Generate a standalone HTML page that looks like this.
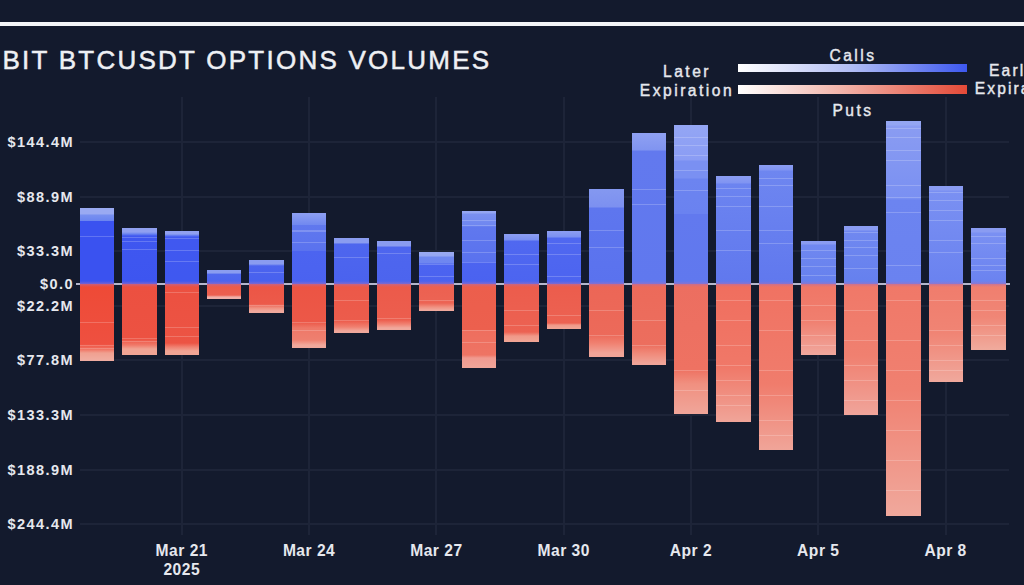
<!DOCTYPE html><html><head><meta charset="utf-8"><style>
*{margin:0;padding:0;box-sizing:border-box}
html,body{width:1024px;height:585px;overflow:hidden;background:#131a2d;font-family:"Liberation Sans",sans-serif;color:#e6e8ee}
.a{position:absolute}
.gv{position:absolute;width:2px;background:#1d2438}
.gh{position:absolute;height:2px;background:#1d2438}
.st{position:absolute;height:1.2px;background:rgba(255,255,255,0.2)}
.yl{position:absolute;right:950px;font-size:14.5px;font-weight:bold;letter-spacing:1.45px;white-space:nowrap;line-height:16px}
.xl{position:absolute;font-size:15.6px;font-weight:bold;letter-spacing:0.5px;white-space:nowrap;line-height:19px;text-align:center;width:100px}
.lg{position:absolute;font-size:15.6px;font-weight:normal;-webkit-text-stroke:0.4px #e6e8ee;letter-spacing:2.5px;white-space:nowrap;line-height:17px;text-align:center}
</style></head><body>

<div class="a" style="left:0;top:22px;width:1024px;height:4px;background:#f4f5f8"></div>
<div class="a" style="left:2.5px;top:44.8px;font-size:26px;letter-spacing:2.25px;line-height:30px;white-space:nowrap;color:#eef0f4;-webkit-text-stroke:0.5px #eef0f4">BIT BTCUSDT OPTIONS VOLUMES</div>
<div class="a" style="left:738px;top:64px;width:228.5px;height:8px;background:linear-gradient(90deg,#ffffff,#b0bcf4 50%,#3d58f0)"></div>
<div class="a" style="left:738px;top:85px;width:228.5px;height:9px;background:linear-gradient(90deg,#ffffff,#f2b4aa 45%,#e44a38)"></div>
<div class="lg" style="left:602px;top:62.5px;width:170px">Later</div>
<div class="lg" style="left:602px;top:82px;width:170px">Expiration</div>
<div class="lg" style="left:768px;top:46.8px;width:170px">Calls</div>
<div class="lg" style="left:768px;top:101.5px;width:170px">Puts</div>
<div class="lg" style="left:934px;top:62px;width:170px;letter-spacing:2.1px">Earlier</div>
<div class="lg" style="left:935px;top:80px;width:170px;letter-spacing:2.1px">Expiration</div>
<div class="gv" style="left:180.8px;top:97px;height:438px"></div>
<div class="gv" style="left:308.1px;top:97px;height:438px"></div>
<div class="gv" style="left:435.4px;top:97px;height:438px"></div>
<div class="gv" style="left:562.7px;top:97px;height:438px"></div>
<div class="gv" style="left:690.0px;top:97px;height:438px"></div>
<div class="gv" style="left:817.3px;top:97px;height:438px"></div>
<div class="gv" style="left:944.6px;top:97px;height:438px"></div>
<div class="gh" style="left:79.5px;top:141.2px;width:929px"></div>
<div class="gh" style="left:79.5px;top:195.7px;width:929px"></div>
<div class="gh" style="left:79.5px;top:250.3px;width:929px"></div>
<div class="gh" style="left:79.5px;top:304.8px;width:929px"></div>
<div class="gh" style="left:79.5px;top:359.4px;width:929px"></div>
<div class="gh" style="left:79.5px;top:413.9px;width:929px"></div>
<div class="gh" style="left:79.5px;top:468.5px;width:929px"></div>
<div class="gh" style="left:79.5px;top:523.0px;width:929px"></div>
<div class="a" style="left:75.5px;top:283.0px;width:934px;height:2px;background:#b4b6cc"></div>
<div class="a" style="left:79.6px;top:207.7px;width:34.6px;height:76.3px;background:linear-gradient(0deg,#3a52f0 0.00%,#3a52f0 82.96%,#6a84f0 82.96%,#7890f0 90.83%,#9aaaf2 92.14%,#9aaaf2 98.69%)"></div>
<div class="st" style="left:79.6px;top:236.0px;width:34.6px"></div>
<div class="a" style="left:79.6px;top:284.0px;width:34.6px;height:77.2px;background:linear-gradient(180deg,#ee4a36 0.00%,#ee5040 77.98%,#f07060 84.46%,#f0a090 89.64%,#f0aca0 98.70%)"></div>
<div class="st" style="left:79.6px;top:322.0px;width:34.6px"></div>
<div class="st" style="left:79.6px;top:345.0px;width:34.6px"></div>
<div class="st" style="left:79.6px;top:348.0px;width:34.6px"></div>
<div class="a" style="left:79.6px;top:281.0px;width:34.6px;height:6px;background:linear-gradient(180deg,rgba(150,110,200,0),rgba(170,110,180,0.55) 50%,rgba(200,110,140,0))"></div>
<div class="a" style="left:122.0px;top:227.6px;width:34.6px;height:56.4px;background:linear-gradient(0deg,#3d55f0 0.00%,#3f57f0 85.82%,#6a84f0 89.36%,#90a0f0 92.91%)"></div>
<div class="st" style="left:122.0px;top:237.0px;width:34.6px"></div>
<div class="st" style="left:122.0px;top:240.5px;width:34.6px"></div>
<div class="st" style="left:122.0px;top:248.5px;width:34.6px"></div>
<div class="a" style="left:122.0px;top:284.0px;width:34.6px;height:70.5px;background:linear-gradient(180deg,#ec5040 0.00%,#ec5242 77.30%,#f07868 85.82%,#f0a494 91.49%)"></div>
<div class="st" style="left:122.0px;top:338.0px;width:34.6px"></div>
<div class="st" style="left:122.0px;top:341.0px;width:34.6px"></div>
<div class="a" style="left:122.0px;top:281.0px;width:34.6px;height:6px;background:linear-gradient(180deg,rgba(150,110,200,0),rgba(170,110,180,0.55) 50%,rgba(200,110,140,0))"></div>
<div class="a" style="left:164.5px;top:230.6px;width:34.6px;height:53.4px;background:linear-gradient(0deg,#3f58f0 0.00%,#4058f0 88.76%,#7088f0 92.51%,#90a0f0 94.38%)"></div>
<div class="st" style="left:164.5px;top:238.0px;width:34.6px"></div>
<div class="st" style="left:164.5px;top:250.0px;width:34.6px"></div>
<div class="st" style="left:164.5px;top:260.5px;width:34.6px"></div>
<div class="a" style="left:164.5px;top:284.0px;width:34.6px;height:71.2px;background:linear-gradient(180deg,#ec5040 0.00%,#ec5444 83.15%,#f08070 88.76%,#f0a494 94.38%)"></div>
<div class="st" style="left:164.5px;top:292.0px;width:34.6px"></div>
<div class="st" style="left:164.5px;top:327.0px;width:34.6px"></div>
<div class="st" style="left:164.5px;top:336.0px;width:34.6px"></div>
<div class="a" style="left:164.5px;top:281.0px;width:34.6px;height:6px;background:linear-gradient(180deg,rgba(150,110,200,0),rgba(170,110,180,0.55) 50%,rgba(200,110,140,0))"></div>
<div class="a" style="left:206.9px;top:270.3px;width:34.6px;height:13.7px;background:linear-gradient(0deg,#4a62ee 0.00%,#5068ee 70.80%,#8a9cf0 78.10%)"></div>
<div class="a" style="left:206.9px;top:284.0px;width:34.6px;height:15.3px;background:linear-gradient(180deg,#ec5a48 0.00%,#ec6050 73.86%,#f0b0a8 86.93%)"></div>
<div class="a" style="left:206.9px;top:281.0px;width:34.6px;height:6px;background:linear-gradient(180deg,rgba(150,110,200,0),rgba(170,110,180,0.55) 50%,rgba(200,110,140,0))"></div>
<div class="a" style="left:249.4px;top:259.7px;width:34.6px;height:24.3px;background:linear-gradient(0deg,#4760ee 0.00%,#4c64ee 75.31%,#8a9cf0 83.54%)"></div>
<div class="st" style="left:249.4px;top:272.0px;width:34.6px"></div>
<div class="a" style="left:249.4px;top:284.0px;width:34.6px;height:28.9px;background:linear-gradient(180deg,#ec5545 0.00%,#ec5a4a 68.86%,#f09080 82.70%,#f0a89c 93.08%)"></div>
<div class="st" style="left:249.4px;top:305.0px;width:34.6px"></div>
<div class="a" style="left:249.4px;top:281.0px;width:34.6px;height:6px;background:linear-gradient(180deg,rgba(150,110,200,0),rgba(170,110,180,0.55) 50%,rgba(200,110,140,0))"></div>
<div class="a" style="left:291.9px;top:213.3px;width:34.6px;height:70.7px;background:linear-gradient(0deg,#4a62f0 0.00%,#4c64f0 46.68%,#5a72ee 46.68%,#6078ee 83.03%,#7088f0 83.03%,#8c9ef2 98.59%)"></div>
<div class="st" style="left:291.9px;top:230.4px;width:34.6px"></div>
<div class="st" style="left:291.9px;top:241.8px;width:34.6px"></div>
<div class="a" style="left:291.9px;top:284.0px;width:34.6px;height:64.3px;background:linear-gradient(180deg,#ec5443 0.00%,#ec5848 59.56%,#ee7868 68.90%,#ee8070 87.56%,#f0a89c 95.33%)"></div>
<div class="st" style="left:291.9px;top:322.0px;width:34.6px"></div>
<div class="st" style="left:291.9px;top:330.0px;width:34.6px"></div>
<div class="a" style="left:291.9px;top:281.0px;width:34.6px;height:6px;background:linear-gradient(180deg,rgba(150,110,200,0),rgba(170,110,180,0.55) 50%,rgba(200,110,140,0))"></div>
<div class="a" style="left:334.3px;top:237.6px;width:34.6px;height:46.4px;background:linear-gradient(0deg,#4a62ee 0.00%,#4e66ee 87.07%,#8a9cf0 89.22%)"></div>
<div class="st" style="left:334.3px;top:257.0px;width:34.6px"></div>
<div class="a" style="left:334.3px;top:284.0px;width:34.6px;height:48.6px;background:linear-gradient(180deg,#ec5848 0.00%,#ec5c4c 75.31%,#f08070 87.65%,#f0a89c 95.88%)"></div>
<div class="st" style="left:334.3px;top:300.0px;width:34.6px"></div>
<div class="st" style="left:334.3px;top:320.0px;width:34.6px"></div>
<div class="a" style="left:334.3px;top:281.0px;width:34.6px;height:6px;background:linear-gradient(180deg,rgba(150,110,200,0),rgba(170,110,180,0.55) 50%,rgba(200,110,140,0))"></div>
<div class="a" style="left:376.8px;top:241.1px;width:34.6px;height:42.9px;background:linear-gradient(0deg,#4c64ee 0.00%,#4e66ee 86.01%,#8a9cf0 88.34%)"></div>
<div class="st" style="left:376.8px;top:253.2px;width:34.6px"></div>
<div class="a" style="left:376.8px;top:284.0px;width:34.6px;height:46.0px;background:linear-gradient(180deg,#ec5a4a 0.00%,#ec5e4e 78.26%,#f08070 86.96%,#f0a89c 95.65%)"></div>
<div class="st" style="left:376.8px;top:318.0px;width:34.6px"></div>
<div class="a" style="left:376.8px;top:281.0px;width:34.6px;height:6px;background:linear-gradient(180deg,rgba(150,110,200,0),rgba(170,110,180,0.55) 50%,rgba(200,110,140,0))"></div>
<div class="a" style="left:419.2px;top:252.2px;width:34.6px;height:31.8px;background:linear-gradient(0deg,#4a62f0 0.00%,#4c64f0 62.26%,#6e86f0 65.41%,#7088f0 84.28%,#94a6f2 87.42%,#9aaaf2 96.86%)"></div>
<div class="st" style="left:419.2px;top:264.0px;width:34.6px"></div>
<div class="st" style="left:419.2px;top:276.0px;width:34.6px"></div>
<div class="a" style="left:419.2px;top:284.0px;width:34.6px;height:27.2px;background:linear-gradient(180deg,#ec6050 0.00%,#ec6454 70.59%,#f09080 85.29%,#f0a89c 96.32%)"></div>
<div class="st" style="left:419.2px;top:300.0px;width:34.6px"></div>
<div class="a" style="left:419.2px;top:281.0px;width:34.6px;height:6px;background:linear-gradient(180deg,rgba(150,110,200,0),rgba(170,110,180,0.55) 50%,rgba(200,110,140,0))"></div>
<div class="a" style="left:461.6px;top:210.7px;width:34.6px;height:73.3px;background:linear-gradient(0deg,#4a62f0 0.00%,#4c64f0 30.01%,#5a72ee 30.01%,#6078ee 78.17%,#6e86f0 79.54%,#7a90f0 95.91%,#94a6f2 97.27%)"></div>
<div class="st" style="left:461.6px;top:220.0px;width:34.6px"></div>
<div class="st" style="left:461.6px;top:225.0px;width:34.6px"></div>
<div class="st" style="left:461.6px;top:240.0px;width:34.6px"></div>
<div class="st" style="left:461.6px;top:252.0px;width:34.6px"></div>
<div class="st" style="left:461.6px;top:262.0px;width:34.6px"></div>
<div class="a" style="left:461.6px;top:284.0px;width:34.6px;height:83.7px;background:linear-gradient(180deg,#ec5e4c 0.00%,#ec604e 54.96%,#ee6e5e 54.96%,#ee7464 84.47%,#f09a90 88.05%,#f0a498 98.81%)"></div>
<div class="st" style="left:461.6px;top:330.0px;width:34.6px"></div>
<div class="st" style="left:461.6px;top:342.0px;width:34.6px"></div>
<div class="a" style="left:461.6px;top:281.0px;width:34.6px;height:6px;background:linear-gradient(180deg,rgba(150,110,200,0),rgba(170,110,180,0.55) 50%,rgba(200,110,140,0))"></div>
<div class="a" style="left:504.1px;top:234.1px;width:34.6px;height:49.9px;background:linear-gradient(0deg,#4c64f0 0.00%,#5068f0 85.97%,#7a90f2 87.98%,#8a9cf2 98.00%)"></div>
<div class="st" style="left:504.1px;top:254.0px;width:34.6px"></div>
<div class="st" style="left:504.1px;top:264.0px;width:34.6px"></div>
<div class="a" style="left:504.1px;top:284.0px;width:34.6px;height:58.2px;background:linear-gradient(180deg,#ec5c4c 0.00%,#ec6252 82.82%,#f09888 89.69%,#f0a494 98.28%)"></div>
<div class="st" style="left:504.1px;top:310.0px;width:34.6px"></div>
<div class="st" style="left:504.1px;top:325.0px;width:34.6px"></div>
<div class="a" style="left:504.1px;top:281.0px;width:34.6px;height:6px;background:linear-gradient(180deg,rgba(150,110,200,0),rgba(170,110,180,0.55) 50%,rgba(200,110,140,0))"></div>
<div class="a" style="left:546.6px;top:231.2px;width:34.6px;height:52.8px;background:linear-gradient(0deg,#4c64f0 0.00%,#5068f0 86.74%,#7a90f2 88.64%,#8a9cf2 98.11%)"></div>
<div class="st" style="left:546.6px;top:243.0px;width:34.6px"></div>
<div class="st" style="left:546.6px;top:254.0px;width:34.6px"></div>
<div class="st" style="left:546.6px;top:276.0px;width:34.6px"></div>
<div class="a" style="left:546.6px;top:284.0px;width:34.6px;height:45.1px;background:linear-gradient(180deg,#ec5c4c 0.00%,#ec6252 86.70%,#f09888 91.13%,#f0a494 97.78%)"></div>
<div class="st" style="left:546.6px;top:315.0px;width:34.6px"></div>
<div class="a" style="left:546.6px;top:281.0px;width:34.6px;height:6px;background:linear-gradient(180deg,rgba(150,110,200,0),rgba(170,110,180,0.55) 50%,rgba(200,110,140,0))"></div>
<div class="a" style="left:589.0px;top:189.0px;width:34.6px;height:95.0px;background:linear-gradient(0deg,#5a72ee 0.00%,#5e76ee 80.00%,#7c90f0 81.05%,#8498f0 98.95%)"></div>
<div class="st" style="left:589.0px;top:230.0px;width:34.6px"></div>
<div class="st" style="left:589.0px;top:247.0px;width:34.6px"></div>
<div class="a" style="left:589.0px;top:284.0px;width:34.6px;height:73.3px;background:linear-gradient(180deg,#ec6656 0.00%,#ec6a5a 69.99%,#f08070 80.90%,#f0a498 94.54%)"></div>
<div class="st" style="left:589.0px;top:310.0px;width:34.6px"></div>
<div class="st" style="left:589.0px;top:335.0px;width:34.6px"></div>
<div class="a" style="left:589.0px;top:281.0px;width:34.6px;height:6px;background:linear-gradient(180deg,rgba(150,110,200,0),rgba(170,110,180,0.55) 50%,rgba(200,110,140,0))"></div>
<div class="a" style="left:631.5px;top:133.2px;width:34.6px;height:150.8px;background:linear-gradient(0deg,#6078ee 0.00%,#6279ee 88.06%,#8094f0 88.73%,#8ea0f2 99.34%)"></div>
<div class="st" style="left:631.5px;top:189.0px;width:34.6px"></div>
<div class="st" style="left:631.5px;top:204.0px;width:34.6px"></div>
<div class="a" style="left:631.5px;top:284.0px;width:34.6px;height:80.5px;background:linear-gradient(180deg,#ec6a5a 0.00%,#ec6e5e 75.16%,#f08878 85.09%,#f0a498 97.52%)"></div>
<div class="st" style="left:631.5px;top:320.0px;width:34.6px"></div>
<div class="st" style="left:631.5px;top:345.0px;width:34.6px"></div>
<div class="a" style="left:631.5px;top:281.0px;width:34.6px;height:6px;background:linear-gradient(180deg,rgba(150,110,200,0),rgba(170,110,180,0.55) 50%,rgba(200,110,140,0))"></div>
<div class="a" style="left:673.9px;top:125.0px;width:34.6px;height:159.0px;background:linear-gradient(0deg,#6078ee 0.00%,#6279ee 44.03%,#6a82f0 44.03%,#6c84f0 66.04%,#7a90f2 66.67%,#7a90f2 77.36%,#8a9cf4 77.99%,#94a6f4 99.37%)"></div>
<div class="st" style="left:673.9px;top:190.0px;width:34.6px"></div>
<div class="st" style="left:673.9px;top:170.0px;width:34.6px"></div>
<div class="st" style="left:673.9px;top:155.0px;width:34.6px"></div>
<div class="st" style="left:673.9px;top:145.0px;width:34.6px"></div>
<div class="st" style="left:673.9px;top:137.0px;width:34.6px"></div>
<div class="a" style="left:673.9px;top:284.0px;width:34.6px;height:129.7px;background:linear-gradient(180deg,#ec6e60 0.00%,#ee7262 66.08%,#f09080 76.87%,#f0a498 98.46%)"></div>
<div class="st" style="left:673.9px;top:370.0px;width:34.6px"></div>
<div class="st" style="left:673.9px;top:390.0px;width:34.6px"></div>
<div class="a" style="left:673.9px;top:281.0px;width:34.6px;height:6px;background:linear-gradient(180deg,rgba(150,110,200,0),rgba(170,110,180,0.55) 50%,rgba(200,110,140,0))"></div>
<div class="a" style="left:716.4px;top:175.5px;width:34.6px;height:108.5px;background:linear-gradient(0deg,#6078ee 0.00%,#6c84f0 92.63%,#8094f2 93.55%,#8a9cf2 99.08%)"></div>
<div class="st" style="left:716.4px;top:188.0px;width:34.6px"></div>
<div class="st" style="left:716.4px;top:196.0px;width:34.6px"></div>
<div class="st" style="left:716.4px;top:206.0px;width:34.6px"></div>
<div class="st" style="left:716.4px;top:230.0px;width:34.6px"></div>
<div class="st" style="left:716.4px;top:250.0px;width:34.6px"></div>
<div class="a" style="left:716.4px;top:284.0px;width:34.6px;height:137.6px;background:linear-gradient(180deg,#f06e5e 0.00%,#f07868 60.00%,#f0a498 99.27%)"></div>
<div class="st" style="left:716.4px;top:300.0px;width:34.6px"></div>
<div class="st" style="left:716.4px;top:320.0px;width:34.6px"></div>
<div class="st" style="left:716.4px;top:345.0px;width:34.6px"></div>
<div class="st" style="left:716.4px;top:365.0px;width:34.6px"></div>
<div class="st" style="left:716.4px;top:380.0px;width:34.6px"></div>
<div class="st" style="left:716.4px;top:395.0px;width:34.6px"></div>
<div class="st" style="left:716.4px;top:405.0px;width:34.6px"></div>
<div class="a" style="left:716.4px;top:281.0px;width:34.6px;height:6px;background:linear-gradient(180deg,rgba(150,110,200,0),rgba(170,110,180,0.55) 50%,rgba(200,110,140,0))"></div>
<div class="a" style="left:758.8px;top:165.4px;width:34.6px;height:118.6px;background:linear-gradient(0deg,#6078ee 0.00%,#6e86f0 94.94%,#8094f2 95.78%,#8a9cf2 99.16%)"></div>
<div class="st" style="left:758.8px;top:178.0px;width:34.6px"></div>
<div class="st" style="left:758.8px;top:185.0px;width:34.6px"></div>
<div class="st" style="left:758.8px;top:206.0px;width:34.6px"></div>
<div class="st" style="left:758.8px;top:230.0px;width:34.6px"></div>
<div class="st" style="left:758.8px;top:243.0px;width:34.6px"></div>
<div class="a" style="left:758.8px;top:284.0px;width:34.6px;height:165.6px;background:linear-gradient(180deg,#f07262 0.00%,#f07c6c 60.00%,#f0a498 99.40%)"></div>
<div class="st" style="left:758.8px;top:300.0px;width:34.6px"></div>
<div class="st" style="left:758.8px;top:330.0px;width:34.6px"></div>
<div class="st" style="left:758.8px;top:370.0px;width:34.6px"></div>
<div class="st" style="left:758.8px;top:395.0px;width:34.6px"></div>
<div class="st" style="left:758.8px;top:420.0px;width:34.6px"></div>
<div class="st" style="left:758.8px;top:435.0px;width:34.6px"></div>
<div class="a" style="left:758.8px;top:281.0px;width:34.6px;height:6px;background:linear-gradient(180deg,rgba(150,110,200,0),rgba(170,110,180,0.55) 50%,rgba(200,110,140,0))"></div>
<div class="a" style="left:801.3px;top:240.6px;width:34.6px;height:43.4px;background:linear-gradient(0deg,#6580ee 0.00%,#7088f0 90.78%,#8a9cf2 93.09%)"></div>
<div class="st" style="left:801.3px;top:250.0px;width:34.6px"></div>
<div class="st" style="left:801.3px;top:258.0px;width:34.6px"></div>
<div class="st" style="left:801.3px;top:266.0px;width:34.6px"></div>
<div class="st" style="left:801.3px;top:275.0px;width:34.6px"></div>
<div class="a" style="left:801.3px;top:284.0px;width:34.6px;height:70.6px;background:linear-gradient(180deg,#f07666 0.00%,#f07e6e 50.00%,#f0a69c 98.58%)"></div>
<div class="st" style="left:801.3px;top:305.0px;width:34.6px"></div>
<div class="st" style="left:801.3px;top:320.0px;width:34.6px"></div>
<div class="st" style="left:801.3px;top:335.0px;width:34.6px"></div>
<div class="st" style="left:801.3px;top:345.0px;width:34.6px"></div>
<div class="a" style="left:801.3px;top:281.0px;width:34.6px;height:6px;background:linear-gradient(180deg,rgba(150,110,200,0),rgba(170,110,180,0.55) 50%,rgba(200,110,140,0))"></div>
<div class="a" style="left:843.7px;top:226.0px;width:34.6px;height:58.0px;background:linear-gradient(0deg,#6580ee 0.00%,#7088f0 91.38%,#8a9cf2 93.10%)"></div>
<div class="st" style="left:843.7px;top:232.0px;width:34.6px"></div>
<div class="st" style="left:843.7px;top:240.0px;width:34.6px"></div>
<div class="st" style="left:843.7px;top:247.0px;width:34.6px"></div>
<div class="st" style="left:843.7px;top:255.0px;width:34.6px"></div>
<div class="st" style="left:843.7px;top:268.0px;width:34.6px"></div>
<div class="a" style="left:843.7px;top:284.0px;width:34.6px;height:131.4px;background:linear-gradient(180deg,#f07868 0.00%,#f08070 55.00%,#f0a49a 99.24%)"></div>
<div class="st" style="left:843.7px;top:310.0px;width:34.6px"></div>
<div class="st" style="left:843.7px;top:340.0px;width:34.6px"></div>
<div class="st" style="left:843.7px;top:365.0px;width:34.6px"></div>
<div class="st" style="left:843.7px;top:380.0px;width:34.6px"></div>
<div class="st" style="left:843.7px;top:400.0px;width:34.6px"></div>
<div class="a" style="left:843.7px;top:281.0px;width:34.6px;height:6px;background:linear-gradient(180deg,rgba(150,110,200,0),rgba(170,110,180,0.55) 50%,rgba(200,110,140,0))"></div>
<div class="a" style="left:886.2px;top:120.7px;width:34.6px;height:163.3px;background:linear-gradient(0deg,#6a82f0 0.00%,#6c84f0 51.44%,#7a90f2 52.66%,#8a9cf2 96.94%,#94a6f2 97.55%)"></div>
<div class="st" style="left:886.2px;top:128.0px;width:34.6px"></div>
<div class="st" style="left:886.2px;top:137.0px;width:34.6px"></div>
<div class="st" style="left:886.2px;top:150.0px;width:34.6px"></div>
<div class="st" style="left:886.2px;top:160.0px;width:34.6px"></div>
<div class="st" style="left:886.2px;top:185.0px;width:34.6px"></div>
<div class="st" style="left:886.2px;top:197.0px;width:34.6px"></div>
<div class="st" style="left:886.2px;top:212.0px;width:34.6px"></div>
<div class="st" style="left:886.2px;top:265.0px;width:34.6px"></div>
<div class="a" style="left:886.2px;top:284.0px;width:34.6px;height:231.6px;background:linear-gradient(180deg,#f07868 0.00%,#f08070 45.00%,#f0a89c 99.57%)"></div>
<div class="st" style="left:886.2px;top:300.0px;width:34.6px"></div>
<div class="st" style="left:886.2px;top:340.0px;width:34.6px"></div>
<div class="st" style="left:886.2px;top:370.0px;width:34.6px"></div>
<div class="st" style="left:886.2px;top:400.0px;width:34.6px"></div>
<div class="st" style="left:886.2px;top:430.0px;width:34.6px"></div>
<div class="st" style="left:886.2px;top:460.0px;width:34.6px"></div>
<div class="st" style="left:886.2px;top:490.0px;width:34.6px"></div>
<div class="a" style="left:886.2px;top:281.0px;width:34.6px;height:6px;background:linear-gradient(180deg,rgba(150,110,200,0),rgba(170,110,180,0.55) 50%,rgba(200,110,140,0))"></div>
<div class="a" style="left:928.6px;top:185.7px;width:34.6px;height:98.3px;background:linear-gradient(0deg,#6a82f0 0.00%,#7a90f2 94.91%,#8a9cf2 95.93%)"></div>
<div class="st" style="left:928.6px;top:192.0px;width:34.6px"></div>
<div class="st" style="left:928.6px;top:200.0px;width:34.6px"></div>
<div class="st" style="left:928.6px;top:210.0px;width:34.6px"></div>
<div class="st" style="left:928.6px;top:220.0px;width:34.6px"></div>
<div class="st" style="left:928.6px;top:240.0px;width:34.6px"></div>
<div class="st" style="left:928.6px;top:252.0px;width:34.6px"></div>
<div class="a" style="left:928.6px;top:284.0px;width:34.6px;height:98.3px;background:linear-gradient(180deg,#f07c6c 0.00%,#f08474 50.00%,#f0a89c 98.98%)"></div>
<div class="st" style="left:928.6px;top:300.0px;width:34.6px"></div>
<div class="st" style="left:928.6px;top:330.0px;width:34.6px"></div>
<div class="st" style="left:928.6px;top:345.0px;width:34.6px"></div>
<div class="st" style="left:928.6px;top:360.0px;width:34.6px"></div>
<div class="st" style="left:928.6px;top:370.0px;width:34.6px"></div>
<div class="a" style="left:928.6px;top:281.0px;width:34.6px;height:6px;background:linear-gradient(180deg,rgba(150,110,200,0),rgba(170,110,180,0.55) 50%,rgba(200,110,140,0))"></div>
<div class="a" style="left:971.1px;top:228.0px;width:34.6px;height:56.0px;background:linear-gradient(0deg,#6a82f0 0.00%,#7a90f2 91.07%,#8a9cf2 92.86%)"></div>
<div class="st" style="left:971.1px;top:236.0px;width:34.6px"></div>
<div class="st" style="left:971.1px;top:243.0px;width:34.6px"></div>
<div class="st" style="left:971.1px;top:258.0px;width:34.6px"></div>
<div class="st" style="left:971.1px;top:265.0px;width:34.6px"></div>
<div class="st" style="left:971.1px;top:270.0px;width:34.6px"></div>
<div class="a" style="left:971.1px;top:284.0px;width:34.6px;height:65.8px;background:linear-gradient(180deg,#f07e6e 0.00%,#f08676 50.00%,#f0aa9c 98.48%)"></div>
<div class="st" style="left:971.1px;top:300.0px;width:34.6px"></div>
<div class="st" style="left:971.1px;top:310.0px;width:34.6px"></div>
<div class="st" style="left:971.1px;top:325.0px;width:34.6px"></div>
<div class="st" style="left:971.1px;top:335.0px;width:34.6px"></div>
<div class="a" style="left:971.1px;top:281.0px;width:34.6px;height:6px;background:linear-gradient(180deg,rgba(150,110,200,0),rgba(170,110,180,0.55) 50%,rgba(200,110,140,0))"></div>
<div class="yl" style="top:134.2px">$144.4M</div>
<div class="yl" style="top:188.7px">$88.9M</div>
<div class="yl" style="top:243.3px">$33.3M</div>
<div class="yl" style="top:276.0px">$0.0</div>
<div class="yl" style="top:297.8px">$22.2M</div>
<div class="yl" style="top:352.4px">$77.8M</div>
<div class="yl" style="top:406.9px">$133.3M</div>
<div class="yl" style="top:461.5px">$188.9M</div>
<div class="yl" style="top:516.0px">$244.4M</div>
<div class="xl" style="left:131.8px;top:540.5px">Mar 21<br>2025</div>
<div class="xl" style="left:259.1px;top:540.5px">Mar 24</div>
<div class="xl" style="left:386.4px;top:540.5px">Mar 27</div>
<div class="xl" style="left:513.7px;top:540.5px">Mar 30</div>
<div class="xl" style="left:641.0px;top:540.5px">Apr 2</div>
<div class="xl" style="left:768.3px;top:540.5px">Apr 5</div>
<div class="xl" style="left:895.6px;top:540.5px">Apr 8</div>
</body></html>
